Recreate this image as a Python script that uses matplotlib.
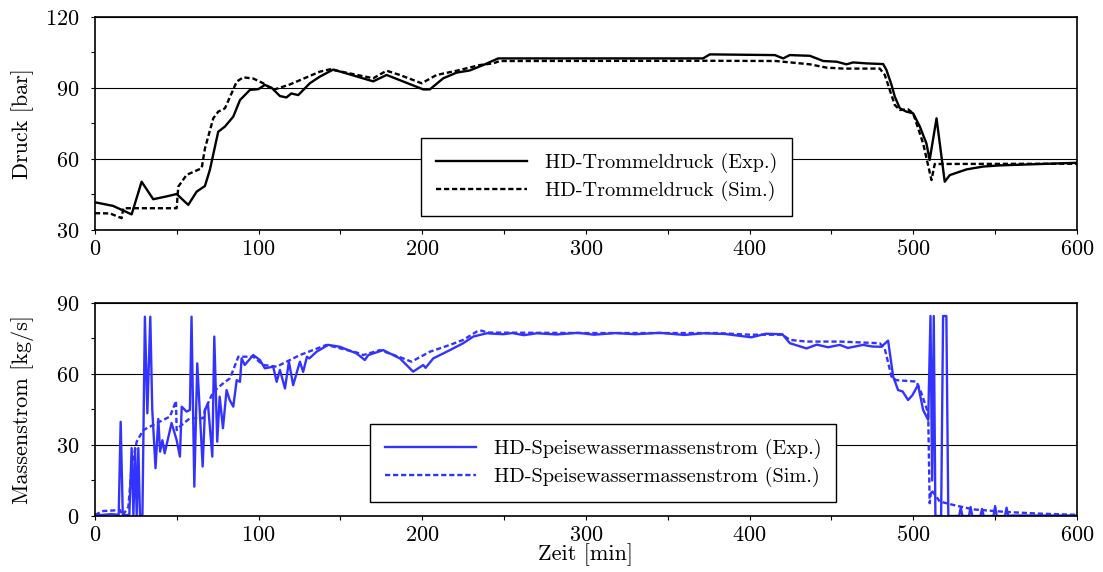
import matplotlib
matplotlib.use("Agg")
import matplotlib.pyplot as plt
from matplotlib.ticker import MultipleLocator

plt.rcParams["font.family"] = "cmr10"
plt.rcParams["mathtext.fontset"] = "cm"
plt.rcParams["axes.formatter.use_mathtext"] = True
plt.rcParams["font.size"] = 16

BLUE = "#3333ff"

# HD-Trommeldruck, Experiment
t_p_exp = [0, 11, 22.4, 28.5, 35.6, 43.8, 49.9, 57, 62.1, 67.2, 70.2, 75.3, 79.4, 84.5, 88.6,
           94.7, 99.8, 103.8, 107.9, 113, 117, 120, 124.2, 131.3, 137.4, 145.6, 170, 178.2,
           200.6, 204.6, 212.8, 221, 229, 237.2, 246.4, 371.5, 375.7, 415.4, 420.5, 424.5,
           436.8, 445, 453.2, 459.2, 463.2, 471.4, 481.6, 483.6, 486.7, 488.7, 491.8, 495.8,
           499.9, 504, 508, 510, 514.2, 519.2, 522.3, 532.5, 542.6, 552.8, 600]
p_exp = [41.7, 40.2, 36.6, 50.4, 43.0, 44.2, 45.2, 40.6, 46.2, 48.6, 55.4, 71.5, 73.7, 77.9, 84.9,
         89.2, 89.5, 91.3, 90.1, 86.6, 86.0, 87.7, 87.0, 92.0, 94.8, 97.8, 92.8, 95.5,
         89.4, 89.4, 94.1, 96.5, 97.4, 99.7, 102.5, 102.5, 104.2, 103.9, 102.5, 103.9,
         103.6, 101.4, 101.1, 100.0, 100.8, 100.4, 100.1, 97.6, 91.3, 86.3, 81.4, 80.0,
         79.3, 73.7, 66.6, 59.6, 77.2, 50.4, 53.2, 55.6, 56.8, 57.3, 58.4]

# HD-Trommeldruck, Simulation
t_p_sim = [0, 9.2, 16.3, 17.3, 49.9, 50.9, 56, 65.2, 67.2, 72.3, 75.3, 79.4, 83.5, 86.6, 90.6,
           96.7, 102.8, 108.9, 119.1, 137.4, 143.6, 170, 178.2, 186.3, 199.6, 208.7, 221,
           235.2, 243.3, 247.4, 375.7, 416, 436.8, 447, 457.2, 479.5, 482.6, 485.6, 488.7,
           491.8, 496.8, 499.9, 506, 511.1, 513.1, 600]
p_sim = [37.1, 37.0, 35.0, 39.2, 39.2, 48.3, 53.3, 56.1, 64.5, 77.2, 80.0, 81.4, 87.8, 92.7, 94.5,
         94.0, 92.0, 89.2, 91.5, 96.9, 97.9, 94.1, 97.3, 95.5, 92.0, 95.5, 97.3,
         99.7, 100.4, 101.4, 101.5, 101.4, 100.0, 98.6, 98.2, 98.2, 95.5, 89.2, 82.8,
         80.7, 81.0, 79.3, 66.6, 51.1, 57.9, 58.0]

# HD-Speisewassermassenstrom, Experiment (10 values per row)
t_m_exp = [0, 5, 10, 14.5, 15.7, 17, 21, 22.4, 23.5, 24.5,
           25.5, 26.5, 27.5, 29, 30.5, 32, 33.8, 35, 37, 38.7,
           39.8, 41.2, 42.6, 46.8, 49.9, 51.9, 53, 56, 58, 59,
           60.7, 62.5, 65.8, 67.2, 69, 71.7, 72.9, 74.7, 76.2, 78.2,
           80.4, 82.3, 84.5, 86.6, 88.6, 89.6, 91.5, 96.7, 100.8, 103.8,
           108.9, 111, 113, 116.1, 118.5, 121.1, 125.2, 127.2, 129.5, 131,
           135.4, 142.5, 149.6, 159.8, 164.9, 167, 176.1, 186.3, 194.4, 200.6,
           202, 206.7, 216.9, 225, 231.1, 239.3, 249.5, 255, 262, 270,
           282, 295, 305, 318, 330, 345, 360, 372, 385, 401,
           410, 420, 424.6, 434.8, 441, 448, 455.1, 460, 469.3, 475,
           480.5, 484.6, 487.7, 490.7, 493.5, 496.8, 499.5, 502.9, 506, 509.1,
           510.5, 511.5, 512.5, 513.5, 517, 518.2, 520.2, 521.4, 528, 529,
           530, 534, 535, 536, 541, 542, 543, 549, 550, 551,
           556, 557, 558, 560, 600]
m_exp = [0.3, 0.5, 0.8, 0.5, 39.8, 0.3, 0.5, 28.7, 0.2, 28.7,
         0.3, 28.7, 0.2, 0.5, 84.2, 43.4, 84.2, 45, 20.2, 41,
         27.2, 32, 26.5, 39.3, 32.1, 25.1, 46.2, 44.1, 44.8, 84.2,
         12.4, 64.5, 20.9, 44.8, 47.6, 25.1, 75.8, 31.4, 50.4, 37.1,
         53.2, 49.0, 46.2, 57.4, 56.7, 66.6, 63.8, 68.0, 65.9, 62.4,
         63.1, 56.7, 61.7, 53.9, 65.2, 55.3, 65.2, 60.9, 67.3, 66.6,
         69.4, 72.3, 71.5, 68.7, 65.9, 68.0, 70.1, 66.6, 61.0, 63.8,
         62.6, 66.6, 70.1, 73.0, 75.8, 77.2, 76.8, 77.3, 76.4, 77.2,
         76.7, 77.4, 76.6, 77.3, 76.8, 77.4, 76.5, 77.2, 76.9, 75.5,
         77.0, 76.8, 73.0, 70.8, 72.4, 71.3, 72.3, 71.0, 72.3, 71.6,
         71.5, 74.1, 58.9, 53.2, 52.6, 49.0, 51.1, 55.4, 44.8, 40.6,
         84.5, 15, 84.5, 0, 0, 84.5, 84.5, 0, 0, 3.5,
         0, 0, 3.8, 0, 0, 3.0, 0, 0, 4.2, 0,
         0, 3.5, 0, 0.2, 0.2]

# HD-Speisewassermassenstrom, Simulation
t_m_sim = [0, 5, 15.3, 17, 20.4, 22.4, 25.5, 29.5, 37.7, 45.8,
           49.5, 49.9, 52, 58, 66.2, 67.2, 72.3, 78.4, 82.5, 87.6,
           96.7, 102.8, 111, 119.1, 125.2, 141.5, 159.8, 163.9, 174.1, 188.3,
           193.4, 204.6, 216.9, 225, 233.2, 236.2, 240, 300, 380, 400,
           420, 424.6, 434.8, 455, 479.5, 482.5, 486.7, 489.5, 501.9, 505,
           509.1, 510, 511, 514, 516.2, 524.3, 536.5, 556.9, 577, 600]
m_sim = [0.5, 2.1, 2.5, 0.3, 3.8, 20.9, 31.4, 36.3, 39.2, 42.0,
         48.6, 36.3, 37.9, 41.3, 41.3, 44.8, 52.5, 56.1, 58.2, 67.3,
         67.3, 63.8, 63.1, 65.9, 68.0, 72.3, 69.1, 68.0, 70.1, 66.6,
         65.2, 69.4, 72.3, 74.4, 77.9, 78.3, 77.5, 77.3, 77.3, 76.6,
         76.6, 74.4, 73.7, 73.7, 73.0, 70.8, 58.9, 57.4, 56.8, 51.8,
         43.4, 5.4, 11.0, 8.2, 6.1, 4.7, 2.8, 1.7, 1.0, 0.5]

fig = plt.figure(figsize=(11.03, 5.72), dpi=100)
ax1 = fig.add_axes([0.0861, 0.5979, 0.8903, 0.3724])
ax2 = fig.add_axes([0.0861, 0.0979, 0.8903, 0.3724])

ax1.plot(t_p_exp, p_exp, color="black", lw=1.7, label="HD-Trommeldruck (Exp.)")
ax1.plot(t_p_sim, p_sim, color="black", lw=1.7, ls=(0, (2.2, 1.2)), label="HD-Trommeldruck (Sim.)")
ax2.plot(t_m_exp, m_exp, color=BLUE, lw=1.7, label="HD-Speisewassermassenstrom (Exp.)")
ax2.plot(t_m_sim, m_sim, color=BLUE, lw=1.7, ls=(0, (2.2, 1.2)),
         label="HD-Speisewassermassenstrom (Sim.)")

for ax, lo, hi in [(ax1, 30, 120), (ax2, 0, 90)]:
    ax.set_xlim(0, 600)
    ax.set_ylim(lo, hi)
    ax.xaxis.set_major_locator(MultipleLocator(100))
    ax.xaxis.set_minor_locator(MultipleLocator(50))
    ax.yaxis.set_major_locator(MultipleLocator(30))
    ax.yaxis.set_minor_locator(MultipleLocator(15))
    ax.grid(True, axis="y", which="major", color="black", lw=0.8)
    ax.tick_params(which="both", direction="out", length=3, width=0.8, labelsize=16)
    ax.tick_params(axis="y", which="both", pad=8)
    for s in ax.spines.values():
        s.set_linewidth(1.2)
    ax.set_axisbelow(True)

ax1.set_ylabel("Druck [bar]", fontsize=16)
ax2.set_ylabel("Massenstrom [kg/s]", fontsize=16)
ax1.yaxis.set_label_coords(-0.062, 0.5)
ax2.yaxis.set_label_coords(-0.062, 0.5)
ax2.set_xlabel("Zeit [min]", fontsize=16, labelpad=-1)

leg_kw = dict(fancybox=False, edgecolor="black", framealpha=1, fontsize=14.6,
              handlelength=4.5, handletextpad=0.85, borderpad=0.75, labelspacing=0.35,
              borderaxespad=0, loc="lower left")
l1 = ax1.legend(bbox_to_anchor=(0.332, 0.066), **leg_kw)
l2 = ax2.legend(bbox_to_anchor=(0.280, 0.066), **leg_kw)
for leg in (l1, l2):
    leg.get_frame().set_linewidth(1.0)

fig.savefig("out.png", dpi=100)
